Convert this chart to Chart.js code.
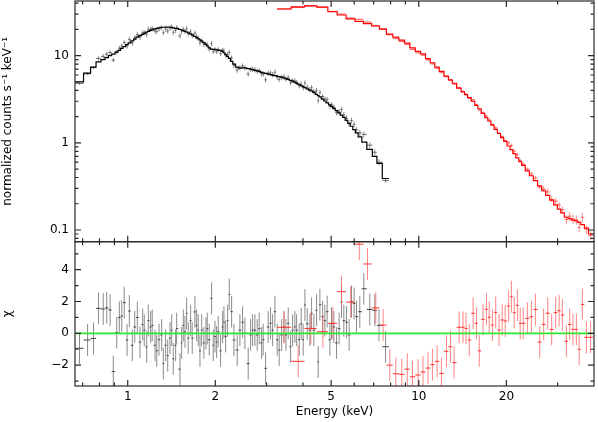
<!DOCTYPE html>
<html><head><meta charset="utf-8">
<script src="https://cdn.jsdelivr.net/npm/chart.js@4/dist/chart.umd.min.js"></script>
<style>html,body{margin:0;padding:0;background:#fff;}#wrap{width:598px;height:422px;position:relative;}canvas{display:block;}</style>
</head><body><div id="wrap"><canvas id="c" width="598" height="422"></canvas></div>
<script>
// ---------- DATA ----------
const blackEnergy = [
0.683,0.728,0.763,0.794,0.824,0.847,0.870,0.892,0.917,0.936,
0.954,0.973,0.995,1.013,1.037,1.057,1.079,1.102,1.126,1.140,
1.162,1.177,1.199,1.214,1.241,1.258,1.281,1.308,1.325,1.350,
1.372,1.397,1.416,1.434,1.461,1.473,1.512,1.532,1.552,1.573,
1.594,1.614,1.645,1.666,1.702,1.725,1.747,1.771,1.795,1.827,
1.857,1.876,1.906,1.942,1.967,1.994,2.021,2.046,2.085,2.119,
2.141,2.170,2.204,2.233,2.275,2.317,2.378,2.429,2.481,2.527,
2.594,2.644,2.686,2.735,2.786,2.830,2.884,2.921,2.977,3.038,
3.096,3.146,3.204,3.263,3.315,3.379,3.441,3.496,3.560,3.628,
3.686,3.753,3.804,3.883,3.945,4.008,4.062,4.137,4.226,4.283,
4.362,4.456,4.513,4.574,4.673,4.758,4.845,4.950,5.016,5.108,
5.218,5.326,5.428,5.528,5.645,5.763,5.873,5.996,6.110,6.272,
6.474,6.788,7.063,7.301,7.691];
const blackModel = [
5.0,6.3,7.4,8.5,9.0,9.5,10.0,10.4,11.0,11.5,
12.1,12.7,13.4,14.0,14.8,15.5,16.3,17.0,17.6,18.0,
18.6,19.0,19.5,19.8,20.3,20.6,20.9,21.1,21.2,21.3,
21.3,21.2,21.1,20.9,20.6,20.5,20.0,19.7,19.4,19.0,
18.7,18.3,17.8,17.3,16.6,16.1,15.7,15.2,14.7,14.1,
13.5,13.0,12.3,11.9,11.8,11.8,11.7,11.6,11.5,11.2,
10.8,10.3,9.8,9.3,8.6,8.0,7.4,7.2,7.25,7.25,
7.1,7.0,6.9,6.8,6.7,6.6,6.45,6.35,6.25,6.15,
6.05,5.98,5.9,5.82,5.76,5.66,5.55,5.45,5.34,5.22,
5.10,4.97,4.85,4.67,4.54,4.42,4.31,4.17,4.02,3.94,
3.80,3.60,3.49,3.37,3.17,3.02,2.88,2.72,2.62,2.49,
2.34,2.21,2.08,1.96,1.81,1.67,1.55,1.42,1.30,1.17,
1.02,0.84,0.70,0.58,0.39];
const blackCounts = [
4.81,6.19,7.31,9.30,9.83,10.41,10.88,8.90,11.03,12.19,
12.89,14.17,13.01,15.37,14.02,15.93,17.44,16.35,18.28,18.25,
17.49,20.06,20.05,20.49,19.23,19.01,20.31,20.95,18.38,20.18,
19.21,20.75,21.40,18.56,19.52,20.93,16.85,18.87,20.08,19.13,
20.34,17.92,18.80,16.94,18.17,16.66,15.92,14.03,14.91,13.51,
13.50,13.27,11.96,13.73,11.18,11.63,11.25,11.68,10.61,11.51,
11.33,10.16,10.35,10.89,9.42,7.76,6.86,7.30,7.61,7.25,
6.16,6.95,7.00,6.90,6.65,6.74,6.18,6.17,5.29,6.32,
6.32,6.06,6.46,5.66,5.34,5.62,5.71,5.41,5.58,4.91,
5.17,5.11,4.92,4.54,4.73,4.30,4.85,4.35,4.08,4.28,
3.85,3.97,3.05,3.79,3.40,3.19,3.15,2.64,2.74,2.56,
2.23,2.26,2.41,2.09,1.91,1.66,1.80,1.63,1.41,1.30,
1.25,0.94,0.78,0.60,0.37];
const blackErrPct = [
4,4,4,6,6,6,6,6,6,6,
6,6,7,7,7,7,7,7,7,7,
7,7,7,7,7,7,7,7,7,7,
7,7,7,7,7,7,7,7,7,7,
7,7,7,7,7,7,7,7,7,7,
7,7,7,7,7,7,7,7,7,7,
7,7,7,7,7,7,7,7,7,7,
7,7,7,7,7,7,7,7,7,7,
7,7,7,7,7,7,7,7,7,7,
7,7,7,7,7,7,7,7,7,7,
7,7,7,7,7,7,7,7,7,7,
8,8,8,8,8,8,8,8,8,8,
8,8,8,8,6];
const blackChi = [
-0.94,-0.42,-0.32,1.57,1.53,1.6,1.47,-2.4,0.05,1.0,
1.09,1.93,-0.42,1.4,-0.75,0.4,1.0,-0.55,0.55,0.2,
-0.85,0.8,0.4,0.5,-0.75,-1.1,-0.4,-0.1,-1.9,-0.75,
-1.4,-0.3,0.2,-1.6,-0.75,0.3,-2.25,-0.6,0.5,0.1,
1.25,-0.3,0.8,-0.3,1.35,0.5,0.2,-1.1,0.2,-0.6,
0.0,0.3,-0.4,2.2,-0.75,-0.2,-0.55,0.1,-1.1,0.4,
0.7,-0.2,0.8,2.45,1.36,-0.42,-1.05,0.2,0.7,0.0,
-1.9,-0.1,0.2,0.2,-0.1,0.3,-0.6,-0.4,-2.2,0.4,
0.63,0.2,1.36,-0.4,-1.05,-0.1,0.4,-0.1,0.63,-0.84,
0.2,0.4,0.2,-0.4,0.6,-0.4,1.78,0.6,0.2,1.25,
0.2,1.45,-1.8,1.8,1.05,0.8,1.36,-0.4,0.63,0.4,
-0.6,0.3,1.97,0.8,0.7,-0.1,2.0,1.88,1.05,1.36,
2.8,1.5,1.45,0.5,-0.84];

const redEnergy = [
3.445,3.852,4.257,4.683,5.067,5.428,5.834,6.247,6.667,7.118,
7.543,7.951,8.338,8.742,9.130,9.514,9.945,10.34,10.76,11.14,
11.56,11.96,12.45,12.85,13.22,13.77,14.19,14.53,14.91,15.37,
15.78,16.14,16.63,17.08,17.46,17.91,18.38,18.87,19.35,19.81,
20.37,20.81,21.28,21.82,22.31,22.85,23.61,24.37,25.16,26.03,
26.86,27.73,28.62,29.53,30.36,31.14,32.15,33.00,33.87,34.79,
35.56,36.48,37.65,38.95];
const redModel = [
34.3,36.3,37.2,36.0,32.0,29.3,26.5,24.8,23.3,21.9,
20.2,17.7,16.3,15.1,13.9,12.3,11.2,10.5,9.26,8.30,
7.39,6.62,5.84,5.28,4.83,4.24,3.85,3.58,3.30,3.00,
2.69,2.46,2.17,1.95,1.78,1.60,1.43,1.28,1.15,1.04,
0.92,0.835,0.754,0.672,0.607,0.55,0.477,0.419,0.368,0.32,
0.282,0.249,0.22,0.194,0.174,0.157,0.14,0.135,0.13,0.127,
0.122,0.115,0.105,0.09];
const redCounts = [
34.43,35.66,37.32,36.04,32.20,30.07,27.02,26.19,24.32,22.25,
20.31,17.35,15.68,14.52,13.43,11.80,10.76,10.12,8.96,8.06,
7.19,6.37,5.74,5.21,4.70,4.29,3.89,3.61,3.26,3.11,
2.74,2.38,2.23,2.04,1.83,1.62,1.49,1.29,1.18,1.06,
0.999,0.931,0.803,0.731,0.626,0.567,0.499,0.441,0.396,0.311,
0.295,0.274,0.224,0.214,0.194,0.171,0.132,0.144,0.134,0.131,
0.107,0.140,0.102,0.087];
const redErrPct = [
1,1,1,1,1,1,1,1,1,1,
1,1,1.5,1.5,1.5,1.5,1.5,1.5,1.5,1.5,
1.5,1.5,1.5,1.5,1.5,3,3,3,3,3,
3,3,3,3,3,3,3,3,3,3,
5,5,5,5,5,5,5,5,5,5,
8,8,8,8,8,8,12,12,12,12,
12,12,12,12];
const redChi = [
0.38,-1.76,0.31,0.1,0.63,2.62,1.96,5.6,4.36,1.6,
0.52,-2.0,-2.54,-2.58,-2.25,-2.73,-2.62,-2.43,-2.18,-1.97,
-1.76,-2.52,-1.13,-0.84,-1.84,0.38,0.38,0.31,-0.42,1.26,
0.63,-1.1,0.88,1.51,1.01,0.52,1.32,0.21,0.84,0.78,
1.72,2.3,1.3,1.76,0.63,0.63,0.94,1.04,1.5,-0.55,
0.56,1.26,0.25,1.3,1.42,1.15,-0.5,0.56,0.25,0.25,
-1.0,1.82,-0.25,-0.25];

const xTickValues = [1, 2, 5, 10, 20];
const xTickLabels = ['1', '2', '5', '10', '20'];
const xMinorTicks = [0.7, 0.8, 0.9, 3, 4, 6, 7, 8, 9, 30];
const yTickValues = [0.1, 1, 10];
const yTickLabels = ['0.1', '1', '10'];
const yMinorTicks = [0.08,0.09,0.2,0.3,0.4,0.5,0.6,0.7,0.8,0.9,2,3,4,5,6,7,8,9,20,30,40];
const chiTickValues = [-2, 0, 2, 4];
const chiTickLabels = ['\u22122', '0', '2', '4'];
const chiMinorTicks = [-3, -1, 1, 3, 5];
const zeroLine = [0, 0];

// ---------- helpers: build library datasets from the arrays ----------
function binEdges(E) {
  const n = E.length, ed = new Array(n + 1);
  for (let i = 1; i < n; i++) ed[i] = Math.sqrt(E[i - 1] * E[i]);
  ed[0] = E[0] * E[0] / ed[1];
  ed[n] = E[n - 1] * E[n - 1] / ed[n - 1];
  return ed;
}
function stepData(E, M) {
  const ed = binEdges(E);
  const pts = M.map((m, i) => ({x: ed[i], y: m}));
  pts.push({x: ed[E.length], y: M[M.length - 1]});
  return pts;
}
function crossData(E, V, pct) {
  const ed = binEdges(E);
  return E.map((e, i) => ({x: e, y: V[i], xlo: ed[i], xhi: ed[i + 1],
    ylo: V[i] * (1 - pct[i] / 100), yhi: V[i] * (1 + pct[i] / 100)}));
}
function chiData(E, C) {
  const ed = binEdges(E);
  return E.map((e, i) => ({x: e, y: C[i], xlo: ed[i], xhi: ed[i + 1], ylo: C[i] - 1, yhi: C[i] + 1}));
}

const FONT = {family: "'DejaVu Sans', sans-serif", size: 12};

function noPad(s) { s.paddingTop = 0; s.paddingBottom = 0; s.paddingLeft = 0; s.paddingRight = 0; }

const errorBarPlugin = {
  id: 'errbars',
  beforeDatasetsDraw(chart) {
    const ctx = chart.ctx, xs = chart.scales.x, ca = chart.chartArea;
    chart.data.datasets.forEach(ds => {
      if (!ds.errBar) return;
      const ys = chart.scales[ds.yAxisID];
      ctx.save();
      ctx.beginPath();
      ctx.rect(ca.left, ys.top, ca.right - ca.left, ys.bottom - ys.top);
      ctx.clip();
      ctx.lineWidth = 1;
      ctx.strokeStyle = ds.errBar.bar;
      ctx.beginPath();
      ds.data.forEach(p => {
        const px = xs.getPixelForValue(p.x);
        ctx.moveTo(px, ys.getPixelForValue(p.ylo));
        ctx.lineTo(px, ys.getPixelForValue(p.yhi));
      });
      ctx.stroke();
      ctx.strokeStyle = ds.errBar.mark;
      ctx.beginPath();
      ds.data.forEach(p => {
        const py = ys.getPixelForValue(p.y);
        ctx.moveTo(xs.getPixelForValue(p.xlo), py);
        ctx.lineTo(xs.getPixelForValue(p.xhi), py);
      });
      ctx.stroke();
      ctx.restore();
    });
  }
};

const framePlugin = {
  id: 'frame',
  afterDatasetsDraw(chart) {
    const ctx = chart.ctx, xs = chart.scales.x, ca = chart.chartArea;
    const panels = [
      {s: chart.scales.y, major: yTickValues, minor: yMinorTicks},
      {s: chart.scales.y2, major: chiTickValues, minor: chiMinorTicks}
    ];
    ctx.save();
    ctx.strokeStyle = '#2a2a2a';
    ctx.lineWidth = 1.2;
    panels.forEach(p => {
      const top = p.s.top, bot = p.s.bottom, L = ca.left, R = ca.right;
      ctx.strokeRect(L, top, R - L, bot - top);
      ctx.beginPath();
      const xt = (v, len) => {
        const px = xs.getPixelForValue(v);
        ctx.moveTo(px, top); ctx.lineTo(px, top + len);
        ctx.moveTo(px, bot); ctx.lineTo(px, bot - len);
      };
      xTickValues.forEach(v => xt(v, 6));
      xMinorTicks.forEach(v => xt(v, 3.5));
      const yt = (v, len) => {
        const py = p.s.getPixelForValue(v);
        if (py < top - 0.1 || py > bot + 0.1) return;
        ctx.moveTo(L, py); ctx.lineTo(L + len, py);
        ctx.moveTo(R, py); ctx.lineTo(R - len, py);
      };
      p.major.forEach(v => yt(v, 6));
      p.minor.forEach(v => yt(v, 3.5));
      ctx.stroke();
    });
    ctx.restore();
  }
};

new Chart(document.getElementById('c'), {
  type: 'line',
  data: {
    datasets: [
      {label: 'zero', yAxisID: 'y2', data: [{x: 0.659, y: zeroLine[0]}, {x: 40, y: zeroLine[1]}],
       borderColor: '#2ee82e', borderWidth: 1.6, pointRadius: 0},
      {label: 'black model', yAxisID: 'y', data: stepData(blackEnergy, blackModel), stepped: true,
       borderColor: '#000000', borderWidth: 1.2, pointRadius: 0},
      {label: 'red model', yAxisID: 'y', data: stepData(redEnergy, redModel), stepped: true,
       borderColor: '#ff0000', borderWidth: 1.2, pointRadius: 0},
      {label: 'black data', yAxisID: 'y', data: crossData(blackEnergy, blackCounts, blackErrPct),
       showLine: false, pointRadius: 0, errBar: {bar: 'rgba(120,120,120,0.85)', mark: 'rgba(90,90,90,0.9)'}},
      {label: 'red data', yAxisID: 'y', data: crossData(redEnergy, redCounts, redErrPct),
       showLine: false, pointRadius: 0, errBar: {bar: 'rgba(255,110,110,0.8)', mark: 'rgba(255,80,80,0.9)'}},
      {label: 'black chi', yAxisID: 'y2', data: chiData(blackEnergy, blackChi),
       showLine: false, pointRadius: 0, errBar: {bar: 'rgba(110,110,110,0.8)', mark: 'rgba(60,60,60,0.95)'}},
      {label: 'red chi', yAxisID: 'y2', data: chiData(redEnergy, redChi),
       showLine: false, pointRadius: 0, errBar: {bar: 'rgba(255,100,100,0.8)', mark: 'rgba(255,40,40,0.95)'}}
    ]
  },
  options: {
    responsive: false, animation: false, devicePixelRatio: 1, events: [],
    layout: {padding: {top: 1, right: 4, bottom: 0, left: 0}},
    plugins: {legend: {display: false}, tooltip: {enabled: false}},
    elements: {line: {tension: 0}},
    scales: {
      x: {
        type: 'logarithmic', position: 'bottom', min: 0.659, max: 40,
        grid: {display: false, drawTicks: false}, border: {display: false},
        afterBuildTicks: s => { s.ticks = xTickValues.map(v => ({value: v})); },
        afterFit: s => { s.height = 36; noPad(s); },
        ticks: {autoSkip: false, maxRotation: 0, minRotation: 0, padding: 4, color: '#000', font: FONT,
                callback: v => xTickLabels[xTickValues.indexOf(v)]},
        title: {display: true, text: 'Energy (keV)', color: '#000', font: FONT, padding: {top: 0, bottom: 3}}
      },
      y2: {
        type: 'linear', position: 'left', stack: 'panels', stackWeight: 144.3, weight: 1,
        min: -3.31, max: 5.76,
        grid: {display: false, drawTicks: false}, border: {display: false},
        afterBuildTicks: s => { s.ticks = chiTickValues.map(v => ({value: v})); },
        afterFit: s => { s.width = 75; noPad(s); },
        ticks: {autoSkip: false, padding: 6, color: '#000', font: FONT,
                callback: v => chiTickLabels[chiTickValues.indexOf(v)]},
        title: {display: true, text: '\u03C7', color: '#000', font: FONT, padding: {top: 1, bottom: 0}}
      },
      y: {
        type: 'logarithmic', position: 'left', stack: 'panels', stackWeight: 240.7, weight: 2,
        min: 0.0734, max: 42.4,
        grid: {display: false, drawTicks: false}, border: {display: false},
        afterBuildTicks: s => { s.ticks = yTickValues.map(v => ({value: v})); },
        afterFit: s => { s.width = 75; noPad(s); },
        ticks: {autoSkip: false, padding: 6, color: '#000', font: FONT,
                callback: v => yTickLabels[yTickValues.indexOf(v)]},
        title: {display: true, text: 'normalized counts s\u207B\u00B9 keV\u207B\u00B9', color: '#000', font: FONT,
                padding: {top: 1, bottom: 0}}
      }
    }
  },
  plugins: [errorBarPlugin, framePlugin]
});
</script></body></html>
